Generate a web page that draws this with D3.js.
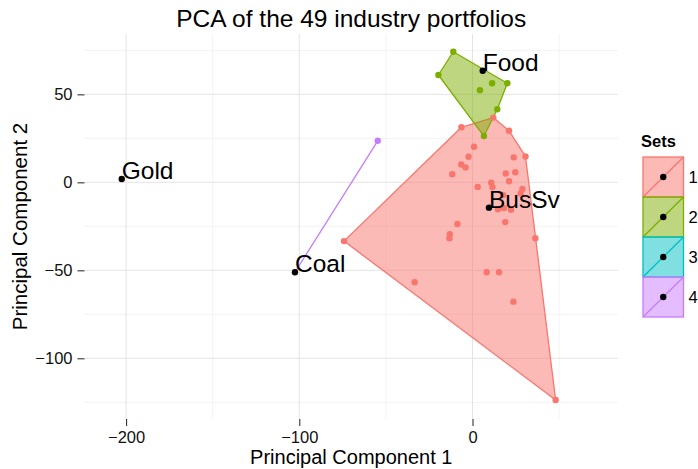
<!DOCTYPE html>
<html>
<head>
<meta charset="utf-8">
<script src="https://cdn.jsdelivr.net/npm/d3@7"></script>
<style>
  body { margin: 0; background: #fff; }
  svg { font-family: "Liberation Sans", Arial, sans-serif; }
</style>
</head>
<body>
<script>
// PCA scores (PC1, PC2) and cluster of each portfolio
const pc1 = [
  -6.4, 12.0, 21.1, 30.6, 36.3, 48.0, -74.2,
  0.9, -2.3, -6.5, -4.0, -11.7, 23.8, 19.2, 24.7, 21.1, 3.0, 10.8, 11.5,
  28.8, 27.8, 14.7, 18.1, 22.2, 18.9, -8.7, -13.1, -13.3, 8.2, 15.3,
  -33.4, 23.6, 17.6,
  -11.1, -19.7, 6.6, 14.3, 20.1, 11.3, 4.3,
  -54.7
];
const pc2 = [
  31.3, 36.8, 29.3, 14.7, -31.8, -123.7, -33.4,
  20.2, 14.5, 10.1, 8.5, 4.6, 14.2, 5.0, 5.7, 0.6, -2.6, -0.2, -2.7,
  -3.8, -6.3, -15.3, -14.6, -15.6, -22.6, -23.7, -29.5, -31.8, -51.1, -51.1,
  -56.8, -67.8, -7.2,
  74.2, 61.0, 26.3, 41.5, 56.3, 56.3, 52.4,
  23.6
];
const cluster = [
  1, 1, 1, 1, 1, 1, 1,
  1, 1, 1, 1, 1, 1, 1, 1, 1, 1, 1, 1,
  1, 1, 1, 1, 1, 1, 1, 1, 1, 1, 1,
  1, 1, 1,
  2, 2, 2, 2, 2, 2, 2,
  4
];

// labelled industries
const labelNames = ["Gold", "Coal", "Food", "BusSv"];
const labelPC1 = [-202.5, -102.5, 5.9, 9.5];
const labelPC2 = [1.9, -51.1, 63.4, -14.4];
const labelSet = [3, 4, 2, 1];

const sets = [1, 2, 3, 4];
const setColors = ["#F8766D", "#7CAE00", "#00BFC4", "#C77CFF"];

const xTicks = [-200, -100, 0];
const xMinor = [-150, -50, 50];
const yTicks = [50, 0, -50, -100];
const yMinor = [75, 25, -25, -75, -125];

const W = 698, H = 469;
const panel = { left: 84.5, right: 618, top: 34, bottom: 419 };

const svg = d3.select("body").append("svg")
  .attr("width", W).attr("height", H);

const x = d3.scaleLinear().domain([-224.0, 84.0]).range([panel.left, panel.right]);
const y = d3.scaleLinear().domain([-134.5, 84.3]).range([panel.bottom, panel.top]);
const color = d3.scaleOrdinal().domain(sets).range(setColors);

// grid
const grid = svg.append("g");
grid.selectAll(".xmin").data(xMinor).enter().append("line")
  .attr("x1", d => x(d)).attr("x2", d => x(d))
  .attr("y1", panel.top).attr("y2", panel.bottom)
  .attr("stroke", "#f3f3f3").attr("stroke-width", 1);
grid.selectAll(".ymin").data(yMinor).enter().append("line")
  .attr("y1", d => y(d)).attr("y2", d => y(d))
  .attr("x1", panel.left).attr("x2", panel.right)
  .attr("stroke", "#f3f3f3").attr("stroke-width", 1);
grid.selectAll(".xmaj").data(xTicks).enter().append("line")
  .attr("x1", d => x(d)).attr("x2", d => x(d))
  .attr("y1", panel.top).attr("y2", panel.bottom)
  .attr("stroke", "#e4e4e4").attr("stroke-width", 1);
grid.selectAll(".ymaj").data(yTicks).enter().append("line")
  .attr("y1", d => y(d)).attr("y2", d => y(d))
  .attr("x1", panel.left).attr("x2", panel.right)
  .attr("stroke", "#e4e4e4").attr("stroke-width", 1);

// axes
const xAxis = svg.append("g")
  .attr("transform", "translate(0," + panel.bottom + ")")
  .call(d3.axisBottom(x).tickValues(xTicks).tickSize(7).tickPadding(5)
    .tickFormat(d => d < 0 ? "\u2212" + Math.abs(d) : d));
const yAxis = svg.append("g")
  .attr("transform", "translate(" + panel.left + ",0)")
  .call(d3.axisLeft(y).tickValues(yTicks).tickSize(7).tickPadding(5)
    .tickFormat(d => d < 0 ? "\u2212" + Math.abs(d) : d));
[xAxis, yAxis].forEach(a => {
  a.select(".domain").remove();
  a.selectAll(".tick line").attr("stroke", "#333").attr("stroke-width", 1.1);
  a.selectAll(".tick text").attr("fill", "#111")
    .style("font-size", "16.5px").style("font-family", "Liberation Sans, Arial, sans-serif");
});

// points grouped per set
const pts = pc1.map((v, i) => ({ x: v, y: pc2[i], set: cluster[i] }));
labelNames.forEach((n, i) => pts.push({ x: labelPC1[i], y: labelPC2[i], set: labelSet[i], name: n }));

const hulls = svg.append("g");
sets.forEach(s => {
  const sp = pts.filter(p => p.set === s).map(p => [x(p.x), y(p.y)]);
  let poly;
  if (sp.length >= 3) poly = d3.polygonHull(sp);
  else poly = sp;
  hulls.append("path")
    .attr("d", "M" + poly.map(p => p.join(",")).join("L") + "Z")
    .attr("fill", color(s)).attr("fill-opacity", 0.5)
    .attr("stroke", color(s)).attr("stroke-width", 1.3)
    .attr("stroke-linejoin", "round");
});

svg.append("g").selectAll("circle")
  .data(pts.filter(p => !p.name)).enter().append("circle")
  .attr("cx", d => x(d.x)).attr("cy", d => y(d.y)).attr("r", 3.2)
  .attr("fill", d => color(d.set));

const lab = pts.filter(p => p.name);
svg.append("g").selectAll("circle")
  .data(lab).enter().append("circle")
  .attr("cx", d => x(d.x)).attr("cy", d => y(d.y)).attr("r", 3.2)
  .attr("fill", "#000");
svg.append("g").selectAll("text")
  .data(lab).enter().append("text")
  .attr("x", d => x(d.x)).attr("y", d => y(d.y))
  .attr("fill", "#000").style("font-size", "24.5px")
  .text(d => d.name);

// titles
svg.append("text")
  .attr("x", (panel.left + panel.right) / 2).attr("y", 27)
  .attr("text-anchor", "middle").style("font-size", "24.5px")
  .text("PCA of the 49 industry portfolios");
svg.append("text")
  .attr("x", (panel.left + panel.right) / 2).attr("y", 464)
  .attr("text-anchor", "middle").style("font-size", "20px")
  .text("Principal Component 1");
svg.append("text")
  .attr("transform", "translate(27," + (panel.top + panel.bottom) / 2 + ") rotate(-90)")
  .attr("text-anchor", "middle").style("font-size", "20.5px")
  .text("Principal Component 2");

// legend
const legend = svg.append("g").attr("transform", "translate(643,157)");
legend.append("text").attr("x", -2).attr("y", -10)
  .style("font-size", "16.5px").style("font-weight", "bold").text("Sets");
const key = 40, kw = 40.5;
const items = legend.selectAll(".item").data(sets).enter().append("g")
  .attr("transform", (d, i) => "translate(0," + i * key + ")");
items.append("rect").attr("x", 0).attr("y", 0).attr("width", kw).attr("height", key)
  .attr("fill", d => color(d)).attr("fill-opacity", 0.5)
  .attr("stroke", d => color(d)).attr("stroke-width", 1.3);
items.append("line").attr("x1", 0).attr("y1", key).attr("x2", kw).attr("y2", 0)
  .attr("stroke", d => color(d)).attr("stroke-width", 1.3);
items.append("circle").attr("cx", kw / 2).attr("cy", key / 2).attr("r", 3.2).attr("fill", "#000");
items.append("text").attr("x", kw + 5).attr("y", key / 2 + 6)
  .style("font-size", "16.5px").text(d => d);
</script>
</body>
</html>
